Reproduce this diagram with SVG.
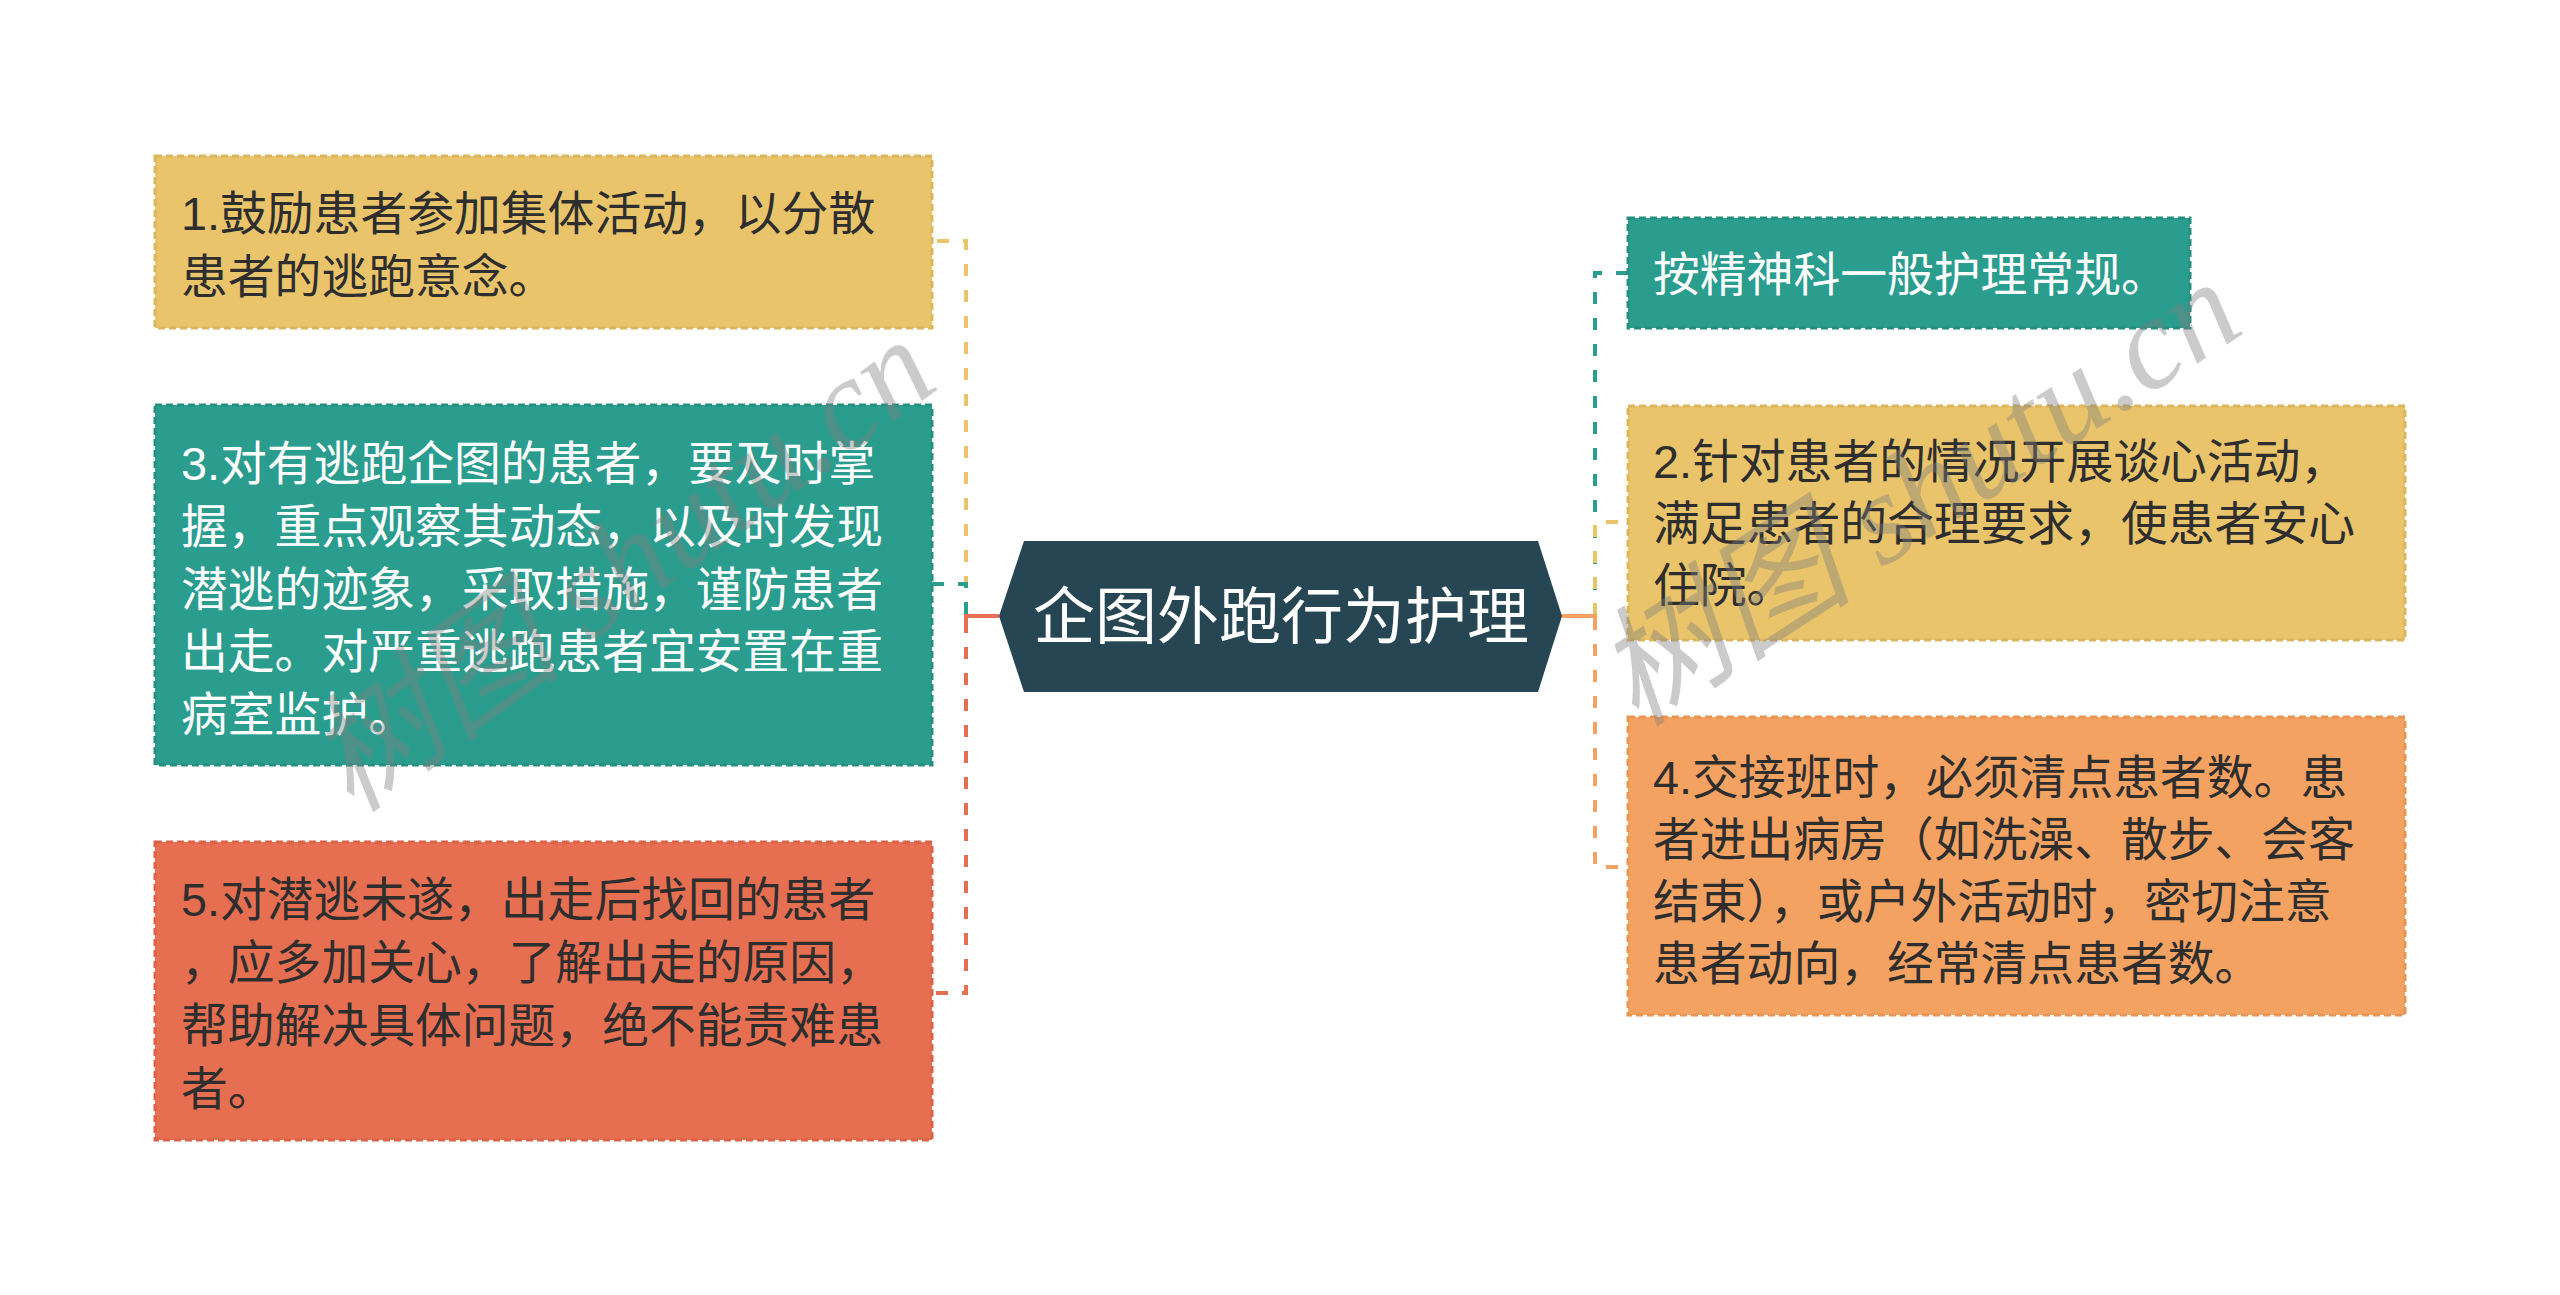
<svg xmlns="http://www.w3.org/2000/svg" width="2560" height="1295" viewBox="0 0 2560 1295">
  <style>
    .box { stroke-width: 3; stroke-dasharray: 7 4; }
    .txt { font-family: "Liberation Sans", "Noto Sans CJK SC", sans-serif; font-size: 46.8px; }
    .dark { fill: #2e2e2e; }
    .light { fill: #ffffff; }
    .conn { fill: none; stroke-width: 4; stroke-dasharray: 12 14; }
    .solid { fill: none; stroke-width: 4; }
    .wm { font-family: "Liberation Serif", "Noto Sans CJK SC", serif; font-style: italic; font-size: 130px; fill: #7f7f7f; opacity: 0.4; }
  </style>
  <rect x="0" y="0" width="2560" height="1295" fill="#ffffff"/>

  <g id="connectors">
    <!-- left side -->
    <path class="conn" stroke="#e9c46a" stroke-dashoffset="-5" d="M932,241 H966 V616"/>
    <path class="conn" stroke="#2a9d8f" d="M932,584 H966 V616"/>
    <path class="conn" stroke="#e76f51" stroke-dashoffset="-4" d="M932,993 H966 V616"/>
    <path class="solid" stroke="#e76f51" d="M999,616 H966 V628"/>
    <!-- right side -->
    <path class="conn" stroke="#2a9d8f" d="M1628,273 H1595 V616"/>
    <path class="conn" stroke="#e9c46a" stroke-dashoffset="-10" d="M1628,522 H1595 V616"/>
    <path class="conn" stroke="#f4a261" stroke-dashoffset="-10" d="M1628,867 H1595 V616"/>
    <path class="solid" stroke="#f4a261" d="M1562,616 H1595 V628"/>
  </g>

  <g id="root">
    <polygon points="999,616 1024,541 1538,541 1562,616 1538,692 1024,692" fill="#264653"/>
    <text x="1281" y="639" text-anchor="middle" font-family="Liberation Sans, Noto Sans CJK SC, sans-serif" font-size="62" fill="#ffffff">企图外跑行为护理</text>
  </g>

  <g id="node1">
    <rect class="box" x="155" y="156" width="777" height="172" fill="#e9c46a" stroke="#dcb65c"/>
    <text class="txt dark" x="181" y="230">1.鼓励患者参加集体活动，以分散</text>
    <text class="txt dark" x="181" y="293">患者的逃跑意念。</text>
  </g>

  <g id="node3">
    <rect class="box" x="155" y="405" width="777" height="360" fill="#2a9d8f" stroke="#25907f"/>
    <text class="txt light" x="181" y="480">3.对有逃跑企图的患者，要及时掌</text>
    <text class="txt light" x="181" y="543">握，重点观察其动态，以及时发现</text>
    <text class="txt light" x="181" y="606">潜逃的迹象，采取措施，谨防患者</text>
    <text class="txt light" x="181" y="668">出走。对严重逃跑患者宜安置在重</text>
    <text class="txt light" x="181" y="731">病室监护。</text>
  </g>

  <g id="node5">
    <rect class="box" x="155" y="842" width="777" height="298" fill="#e76f51" stroke="#da6246"/>
    <text class="txt dark" x="181" y="916">5.对潜逃未遂，出走后找回的患者</text>
    <text class="txt dark" x="181" y="979">，应多加关心，了解出走的原因，</text>
    <text class="txt dark" x="181" y="1042">帮助解决具体问题，绝不能责难患</text>
    <text class="txt dark" x="181" y="1105">者。</text>
  </g>

  <g id="nodeA">
    <rect class="box" x="1628" y="218" width="562" height="110" fill="#2a9d8f" stroke="#25907f"/>
    <text class="txt light" x="1653" y="291">按精神科一般护理常规。</text>
  </g>

  <g id="node2">
    <rect class="box" x="1628" y="406" width="777" height="234" fill="#e9c46a" stroke="#dcb65c"/>
    <text class="txt dark" x="1653" y="478">2.针对患者的情况开展谈心活动，</text>
    <text class="txt dark" x="1653" y="540">满足患者的合理要求，使患者安心</text>
    <text class="txt dark" x="1653" y="602">住院。</text>
  </g>

  <g id="node4">
    <rect class="box" x="1628" y="717" width="777" height="298" fill="#f4a261" stroke="#e89553"/>
    <text class="txt dark" x="1653" y="794">4.交接班时，必须清点患者数。患</text>
    <text class="txt dark" x="1653" y="856">者进出病房（如洗澡、散步、会客</text>
    <text class="txt dark" x="1653" y="918">结束），或户外活动时，密切注意</text>
    <text class="txt dark" x="1653" y="980">患者动向，经常清点患者数。</text>
  </g>

  <g id="watermarks">
    <text class="wm" transform="translate(352,815) rotate(-36)">树图 shutu.cn</text>
    <text class="wm" transform="translate(1636,728) rotate(-33)">树图 shutu.cn</text>
  </g>
</svg>
